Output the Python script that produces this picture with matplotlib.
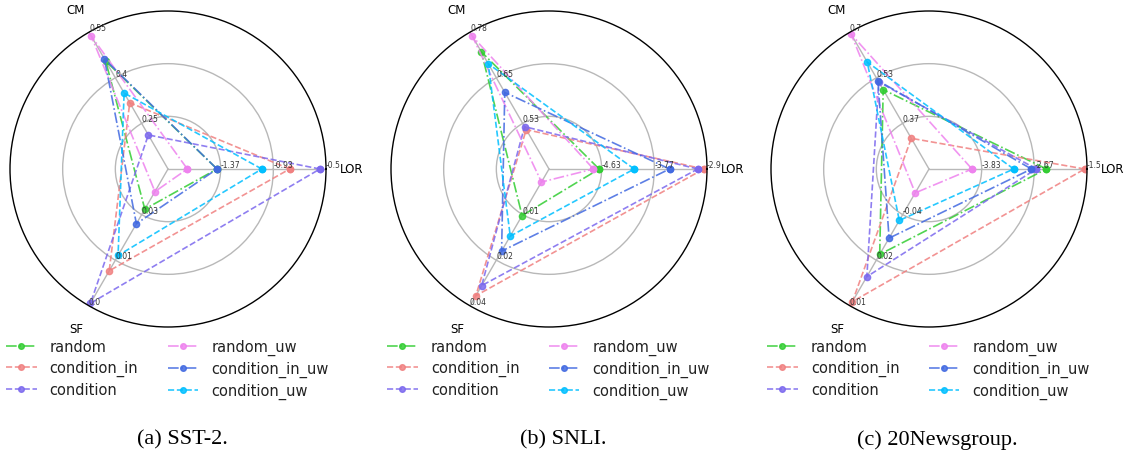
"""
3つのデータセットについて LOR / CM / SF をレーダーチャートで並べる
"""
import matplotlib
matplotlib.use("Agg")
import matplotlib.pyplot as plt
import numpy as np

methods = ["random", "condition_in", "condition",
           "random_uw", "condition_in_uw", "condition_uw"]
metrics = ["LOR", "CM", "SF"]
captions = ["(a) SST-2.", "(b) SNLI.", "(c) 20Newsgroup."]

# 各軸の値 (methods の順)
sst2_lor = [-1.40, -0.80, -0.55, -1.645, -1.40, -1.03]
sst2_cm = [0.455, 0.318, 0.212, 0.537, 0.462, 0.350]
sst2_sf = [0.0265, 0.0096, 0.0007, 0.0313, 0.0225, 0.0138]

snli_lor = [-4.672, -2.954, -3.052, -4.765, -3.515, -4.095]
snli_cm = [0.726, 0.513, 0.521, 0.7685, 0.615, 0.6935]
snli_sf = [0.0103, 0.0349, 0.0318, 0.0, 0.0212, 0.0166]

news_lor = [-2.397, -1.551, -2.621, -4.044, -2.729, -3.121]
news_cm = [0.492, 0.316, 0.52, 0.692, 0.525, 0.592]
news_sf = [-0.0182, 0.0077, -0.0060, -0.0519, -0.0271, -0.0368]

# 軸ごとのスケール (内側の円の値, 外周の値)
sst2_range = [(-1.37, -0.5), (0.25, 0.55), (0.025, 0.0)]
snli_range = [(-4.63, -2.9), (0.53, 0.78), (0.01, 0.038)]
news_range = [(-3.83, -1.5), (0.37, 0.70), (-0.04, 0.01)]

# 軸ごとの目盛りラベル (内側, 中間, 外周)
sst2_ticks = [["-1.37", "-0.93", "-0.5"], ["0.25", "0.4", "0.55"], ["0.03", "0.01", "0.0"]]
snli_ticks = [["-4.63", "-3.77", "-2.9"], ["0.53", "0.65", "0.78"], ["0.01", "0.02", "0.04"]]
news_ticks = [["-3.83", "-2.67", "-1.5"], ["0.37", "0.53", "0.7"], ["-0.04", "0.02", "0.01"]]

colors = ["limegreen", "lightcoral", "mediumslateblue",
          "violet", "royalblue", "deepskyblue"]
styles = ["-.", "--", "--", "-.", "-.", "--"]

panels = [
    ([sst2_lor, sst2_cm, sst2_sf], sst2_range, sst2_ticks),
    ([snli_lor, snli_cm, snli_sf], snli_range, snli_ticks),
    ([news_lor, news_cm, news_sf], news_range, news_ticks),
]

W, H = 1129, 452
fig = plt.figure(figsize=(W / 100, H / 100), dpi=100)

angles = np.array([0, 2 * np.pi / 3, 4 * np.pi / 3])
rings = [1 / 3, 2 / 3, 1.0]
R = 158
centers_x = [168, 549, 929]
cy = 170
caption_x = [182, 563, 937]


def to_r(v, lo, hi):
    # 内側の円を lo、外周を hi として半径に変換
    return 1 / 3 + (np.asarray(v) - lo) / (hi - lo) * 2 / 3


for k, (vals, rng, ticks) in enumerate(panels):
    cx = centers_x[k]
    ax = fig.add_axes([(cx - R) / W, (H - cy - R) / H, 2 * R / W, 2 * R / H],
                      projection="polar")
    ax.set_ylim(0, 1)
    ax.set_yticks(rings[:2])
    ax.set_yticklabels([])
    ax.set_xticks(angles)
    ax.set_xticklabels([])
    ax.grid(True, color="#b8b8b8", lw=1.0)
    ax.spines["polar"].set_color("black")
    ax.spines["polar"].set_linewidth(1.0)

    for i, m in enumerate(methods):
        r = [to_r(vals[j][i], *rng[j]) for j in range(3)]
        r = np.append(r, r[0])
        th = np.append(angles, angles[0])
        ax.plot(th, r, styles[i], color=colors[i], lw=1.2, marker="o",
                markersize=4.5, alpha=0.85, label=m)

    for j in range(3):
        for q in range(3):
            ax.text(angles[j], rings[q], ticks[j][q], fontsize=5.5,
                    color="#333333", ha="left", va="bottom")
        ax.text(angles[j], 1.165, metrics[j], fontsize=8.5,
                ha="center", va="center")

    ax.legend(loc="upper left", bbox_to_anchor=((cx - 162) / W, 1 - 340 / H),
              bbox_transform=fig.transFigure, ncol=2, frameon=False,
              fontsize=10.5, handlelength=2.1, handletextpad=0.9,
              columnspacing=2.0, labelspacing=0.4, borderpad=0,
              borderaxespad=0, labelcolor="#222222", markerscale=0.9)

    fig.text(caption_x[k] / W, 1 - 440 / H, captions[k],
             family="Liberation Serif", fontsize=16, ha="center", va="center")

fig.savefig("out.png", dpi=100)
